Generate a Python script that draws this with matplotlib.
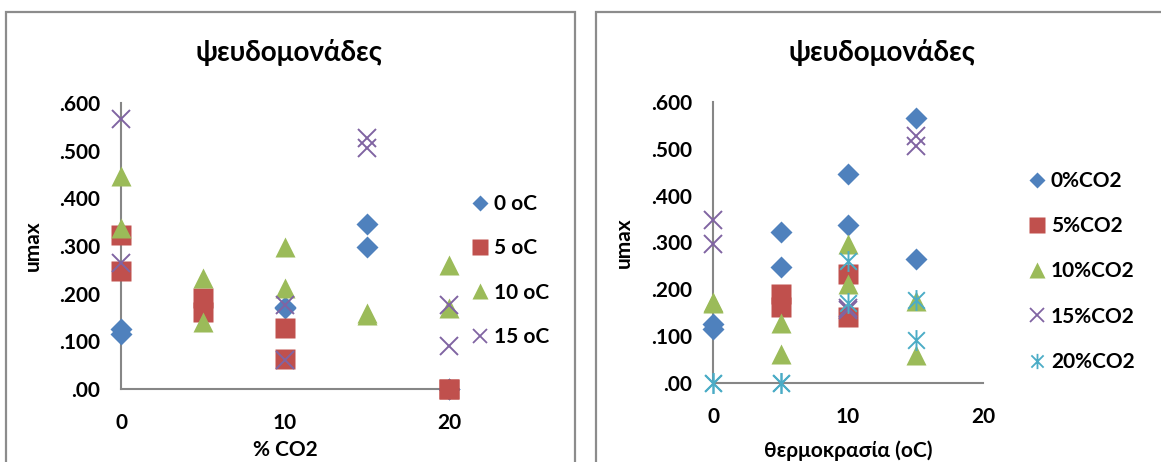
import numpy as np
import matplotlib
matplotlib.use("Agg")
import matplotlib.pyplot as plt
from matplotlib.path import Path
from matplotlib.patches import Rectangle

plt.rcParams['font.family'] = ['Lato', 'Open Sans', 'DejaVu Sans']
plt.rcParams['font.weight'] = 'bold'

nan = np.nan
# x positions (% CO2), two replicates per level
co2 = [0, 0, 5, 5, 10, 10, 15, 15, 20, 20]
# umax per temperature, same order as co2
umax_T0 = [0.125, 0.115, nan, nan, 0.172, 0.170, 0.347, 0.297, 0.0, 0.0]
umax_T5 = [0.323, 0.247, 0.190, 0.162, 0.129, 0.062, nan, nan, 0.0, 0.0]
umax_T10 = [0.447, 0.338, 0.232, 0.140, 0.297, 0.211, 0.160, 0.155, 0.260, 0.170]
umax_T15 = [0.566, 0.264, nan, nan, 0.176, 0.060, 0.527, 0.506, 0.177, 0.091]

temps = [0, 5, 10, 15]
co2_levels = [0, 5, 10, 15, 20]
temp_labels = ['0 oC', '5 oC', '10 oC', '15 oC']
co2_labels = ['0%CO2', '5%CO2', '10%CO2', '15%CO2', '20%CO2']

title = 'ψευδομονάδες'
ylabel = 'umax'
xlabel_left = '% CO2'
xlabel_right = 'θερμοκρασία (oC)'
yticks = [0, 0.1, 0.2, 0.3, 0.4, 0.5, 0.6]
ytick_labels = ['.00', '.100', '.200', '.300', '.400', '.500', '.600']
xticks = [0, 10, 20]

colors = ['#4F81BD', '#C0504D', '#9BBB59', '#8064A2', '#4BACC6']

star = Path([(-1, -1), (1, 1), (-1, 1), (1, -1), (0, -1.25), (0, 1.25)],
            [Path.MOVETO, Path.LINETO, Path.MOVETO, Path.LINETO, Path.MOVETO, Path.LINETO])

styles = [
    dict(marker='D', ms=11.5, mec='none'),
    dict(marker='s', ms=14, mec='none'),
    dict(marker='^', ms=15, mec='none'),
    dict(marker='x', ms=13, mew=1.4),
    dict(marker=star, ms=15, mew=1.4),
]
leg_styles = [
    dict(marker='D', ms=8, mec='none'),
    dict(marker='s', ms=11, mec='none'),
    dict(marker='^', ms=11, mec='none'),
    dict(marker='x', ms=10, mew=1.3),
    dict(marker=star, ms=11, mew=1.3),
]

fig = plt.figure(figsize=(11.61, 4.62), dpi=100)
W, H = 1161, 462

# panel borders
for x0, x1 in [(6, 575), (596, 1200)]:
    fig.add_artist(Rectangle((x0 / W, -0.1), (x1 - x0) / W, 1.1 - 12 / H,
                             transform=fig.transFigure, fill=False,
                             edgecolor='#8c8c8c', lw=1.6, zorder=0))

axL = fig.add_axes([121 / W, 1 - 389 / H, 328 / W, 286 / H])
axR = fig.add_axes([713 / W, 1 - 383 / H, 270 / W, 281 / H])

series_T = [umax_T0, umax_T5, umax_T10, umax_T15]
for i, ys in enumerate(series_T):
    axL.plot(co2, ys, ls='none', color=colors[i], clip_on=False, zorder=3 + i, **styles[i])

# right chart: same data grouped by CO2 level, x = temperature
co2_arr = np.array(co2)
for j, lev in enumerate(co2_levels):
    xs, ys = [], []
    for t, s in zip(temps, series_T):
        vals = np.array(s)[co2_arr == lev]
        for v in vals:
            xs.append(t)
            ys.append(v)
    axR.plot(xs, ys, ls='none', color=colors[j], clip_on=False, zorder=3 + j, **styles[j])


def style_axes(ax, xlab, xlab_y, ylab_x):
    ax.set_xlim(0, 20)
    ax.set_ylim(0, 0.6)
    for s in ['top', 'right']:
        ax.spines[s].set_visible(False)
    for s in ['left', 'bottom']:
        ax.spines[s].set_color('#868686')
        ax.spines[s].set_linewidth(1.5)
    ax.set_yticks(yticks)
    ax.set_yticklabels(ytick_labels)
    ax.set_xticks(xticks)
    ax.tick_params(length=0, labelsize=15, pad=15)
    ax.tick_params(axis='x', pad=17)
    ax.set_xlabel(xlab, fontsize=15, fontweight='bold')
    ax.xaxis.set_label_coords(0.5, xlab_y)
    ax.set_ylabel(ylabel, fontsize=15, fontweight='bold')
    ax.yaxis.set_label_coords(ylab_x, 0.5)
    ax.patch.set_alpha(0)


style_axes(axL, xlabel_left, -0.178, -0.238)
style_axes(axR, xlabel_right, -0.203, -0.293)

fig.text(289 / W, 1 - 52 / H, title, ha='center', va='center', fontsize=20, fontweight='bold')
fig.text(882 / W, 1 - 52 / H, title, ha='center', va='center', fontsize=20, fontweight='bold')

# legends
hL = [axL.plot([], [], ls='none', color=colors[i], **leg_styles[i])[0] for i in range(4)]
axL.legend(hL, temp_labels, loc='upper left', bbox_to_anchor=(472 / W, 1 - 194 / H),
           bbox_transform=fig.transFigure, frameon=False, fontsize=15, handlelength=0.8,
           handletextpad=0.25, labelspacing=1.17, borderpad=0, borderaxespad=0)
hR = [axR.plot([], [], ls='none', color=colors[j], **leg_styles[j])[0] for j in range(5)]
axR.legend(hR, co2_labels, loc='upper left', bbox_to_anchor=(1029 / W, 1 - 171 / H),
           bbox_transform=fig.transFigure, frameon=False, fontsize=15, handlelength=0.8,
           handletextpad=0.25, labelspacing=1.21, borderpad=0, borderaxespad=0)

fig.savefig('out.png', dpi=100)
